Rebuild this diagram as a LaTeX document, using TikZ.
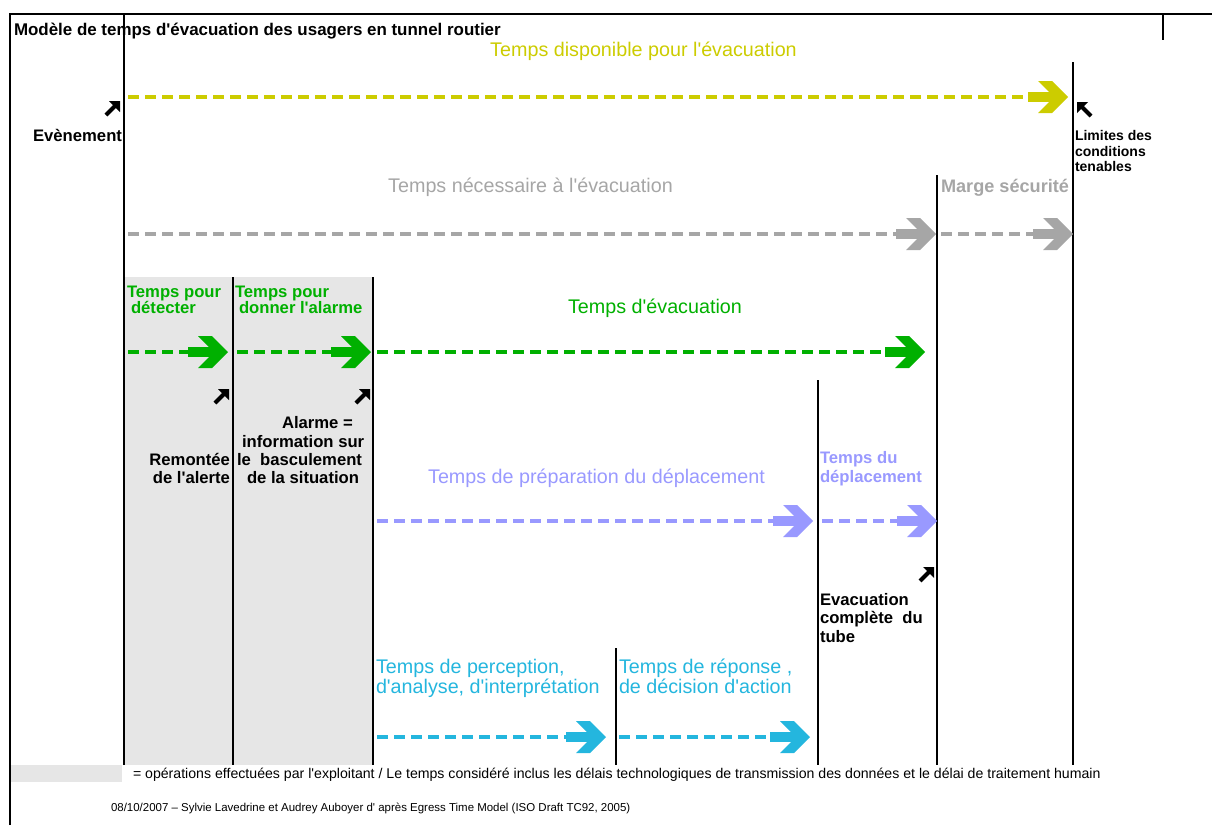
\documentclass[tikz,border=0pt]{standalone}
\usepackage{fontspec}
\setmainfont{Liberation Sans}[Ligatures=TeXOff]
\definecolor{yellowc}{RGB}{204,204,0}
\definecolor{grayc}{RGB}{166,166,166}
\definecolor{greenc}{RGB}{0,176,0}
\definecolor{lavc}{RGB}{153,153,255}
\definecolor{cyanc}{RGB}{36,182,222}
\definecolor{shadec}{RGB}{230,230,230}
\begin{document}
\begin{tikzpicture}[x=0.75pt,y=-0.75pt,
  lbl/.style={inner sep=0pt,outer sep=0pt,anchor=base west},
  bld/.style={font=\fontsize{12.5}{15}\selectfont\bfseries},
  reg/.style={font=\fontsize{14.8}{17}\selectfont},
  small/.style={font=\fontsize{10.5}{12}\selectfont\bfseries},
  dash line/.style={line width=3pt,dash pattern=on 8.25pt off 4.5pt},
  vline/.style={line width=#1},
  bigarrow/.pic={
    \fill (-40,-5) rectangle (-12,5);
    \fill (0,0) -- (-16,-16) -- (-30,-16) -- (-14,0) -- (-30,16) -- (-16,16) -- cycle;
  },
  smallarrow/.pic={
    \fill (0,0) -- (0,11) -- (-11,0) -- cycle;
    \draw[line width=3pt] (-3,3) -- (-14,14);
  }
]
\useasboundingbox (0,0) rectangle (1212,825);
% shaded areas
\fill[shadec] (124,277) rectangle (373,765);
\fill[shadec] (10,765) rectangle (122,782);
% frame
\draw[line width=2.2pt] (10,825) -- (10,14) -- (1212,14);
\draw[line width=0.9pt] (1163,14) -- (1163,40);
% vertical lines
\coordinate (v0t) at (124,14);   \coordinate (v0b) at (124,765);
\coordinate (v1t) at (233,277);  \coordinate (v1b) at (233,765);
\coordinate (v2t) at (373,277);  \coordinate (v2b) at (373,765);
\coordinate (v3t) at (616,648);  \coordinate (v3b) at (616,765);
\coordinate (v4t) at (818,380);  \coordinate (v4b) at (818,765);
\coordinate (v5t) at (937,175);  \coordinate (v5b) at (937,765);
\coordinate (v6t) at (1073,62);  \coordinate (v6b) at (1073,765);
\draw[vline=2.2pt] (v0t) -- (v0b);
\draw[vline=1pt] (v1t) -- (v1b);
\draw[vline=1pt] (v2t) -- (v2b);
\draw[vline=1.8pt] (v3t) -- (v3b);
\draw[vline=1pt] (v4t) -- (v4b);
\draw[vline=1.4pt] (v5t) -- (v5b);
\draw[vline=2pt] (v6t) -- (v6b);
% arrows
\coordinate (ys) at (128,97);  \coordinate (ye) at (1068,97);
\coordinate (g1s) at (128,234); \coordinate (g1e) at (936,234);
\coordinate (g2s) at (941,234); \coordinate (g2e) at (1073,234);
\coordinate (e1s) at (128,352); \coordinate (e1e) at (228,352);
\coordinate (e2s) at (237,352); \coordinate (e2e) at (371,352);
\coordinate (e3s) at (377,352); \coordinate (e3e) at (925,352);
\coordinate (l1s) at (377,521); \coordinate (l1e) at (813,521);
\coordinate (l2s) at (822,521); \coordinate (l2e) at (937,521);
\coordinate (c1s) at (377,737); \coordinate (c1e) at (606,737);
\coordinate (c2s) at (619,737); \coordinate (c2e) at (810,737);
\foreach \s/\e/\c in {ys/ye/yellowc, g1s/g1e/grayc, g2s/g2e/grayc, e1s/e1e/greenc, e2s/e2e/greenc, e3s/e3e/greenc, l1s/l1e/lavc, l2s/l2e/lavc, c1s/c1e/cyanc, c2s/c2e/cyanc}{
  \draw[dash line,\c] (\s) -- ([xshift=-28.5pt]\e);
  \pic[color=\c] at (\e) {bigarrow};
}
% small black arrows
\pic at (120,101) {smallarrow};
\pic[xscale=-1] at (1077,102) {smallarrow};
\pic at (229,389) {smallarrow};
\pic at (370,389) {smallarrow};
\pic at (934,567) {smallarrow};
% texts
\node[lbl,font=\fontsize{12.7}{15}\selectfont\bfseries] (title) at (14,35) {Modèle de temps d'évacuation des usagers en tunnel routier};
\node[lbl,reg,yellowc,anchor=base] (tdisp) at (643.5,56) {Temps disponible pour l'évacuation};
\node[lbl,bld,anchor=base east] (evt) at (122,141) {Evènement};
\node[lbl,small] (lim1) at (1075,140) {Limites des};
\node[lbl,small] (lim2) at (1075,156) {conditions};
\node[lbl,small] (lim3) at (1075,171) {tenables};
\node[lbl,reg,grayc,anchor=base] (tnec) at (530.5,192) {Temps nécessaire à l'évacuation};
\node[lbl,font=\fontsize{13.6}{15}\selectfont\bfseries,grayc] (marge) at (941,192) {Marge sécurité};
\node[lbl,bld,greenc] (det1) at (127,297) {Temps pour};
\node[lbl,bld,greenc] (det2) at (131,313) {détecter};
\node[lbl,bld,greenc] (al1) at (235,297) {Temps pour};
\node[lbl,bld,greenc] (al2) at (239,313) {donner l'alarme};
\node[lbl,reg,greenc,anchor=base] (tevac) at (655,313) {Temps d'évacuation};
\node[lbl,bld,anchor=base east] (rem1) at (230,465) {Remontée};
\node[lbl,bld,anchor=base east] (rem2) at (230,483) {de l'alerte};
\node[lbl,bld] (ala1) at (282,428) {Alarme =};
\node[lbl,bld] (ala2) at (242,447) {information sur};
\node[lbl,bld] (ala3) at (237,465) {le\ \ basculement};
\node[lbl,bld] (ala4) at (247,483) {de la situation};
\node[lbl,reg,lavc,anchor=base] (tprep) at (596.5,483) {Temps de préparation du déplacement};
\node[lbl,bld,lavc] (tdep1) at (820,463) {Temps du};
\node[lbl,bld,lavc] (tdep2) at (820,482) {déplacement};
\node[lbl,bld] (ev1) at (820,605) {Evacuation};
\node[lbl,bld] (ev2) at (820,623) {complète\ \ du};
\node[lbl,bld] (ev3) at (820,642) {tube};
\node[lbl,reg,cyanc] (per1) at (376,673) {Temps de perception,};
\node[lbl,reg,cyanc] (per2) at (376,693) {d'analyse, d'interprétation};
\node[lbl,reg,cyanc] (rep1) at (619,673) {Temps de réponse ,};
\node[lbl,reg,cyanc] (rep2) at (619,693) {de décision d'action};
\node[lbl,font=\fontsize{10.6}{12}\selectfont] (leg) at (133,778) {= opérations effectuées par l'exploitant / Le temps considéré inclus les délais technologiques de transmission des données et le délai de traitement humain};
\node[lbl,font=\fontsize{8.6}{10}\selectfont] (foot) at (111,811) {08/10/2007 – Sylvie Lavedrine et Audrey Auboyer d' après Egress Time Model (ISO Draft TC92, 2005)};
\end{tikzpicture}
\end{document}
